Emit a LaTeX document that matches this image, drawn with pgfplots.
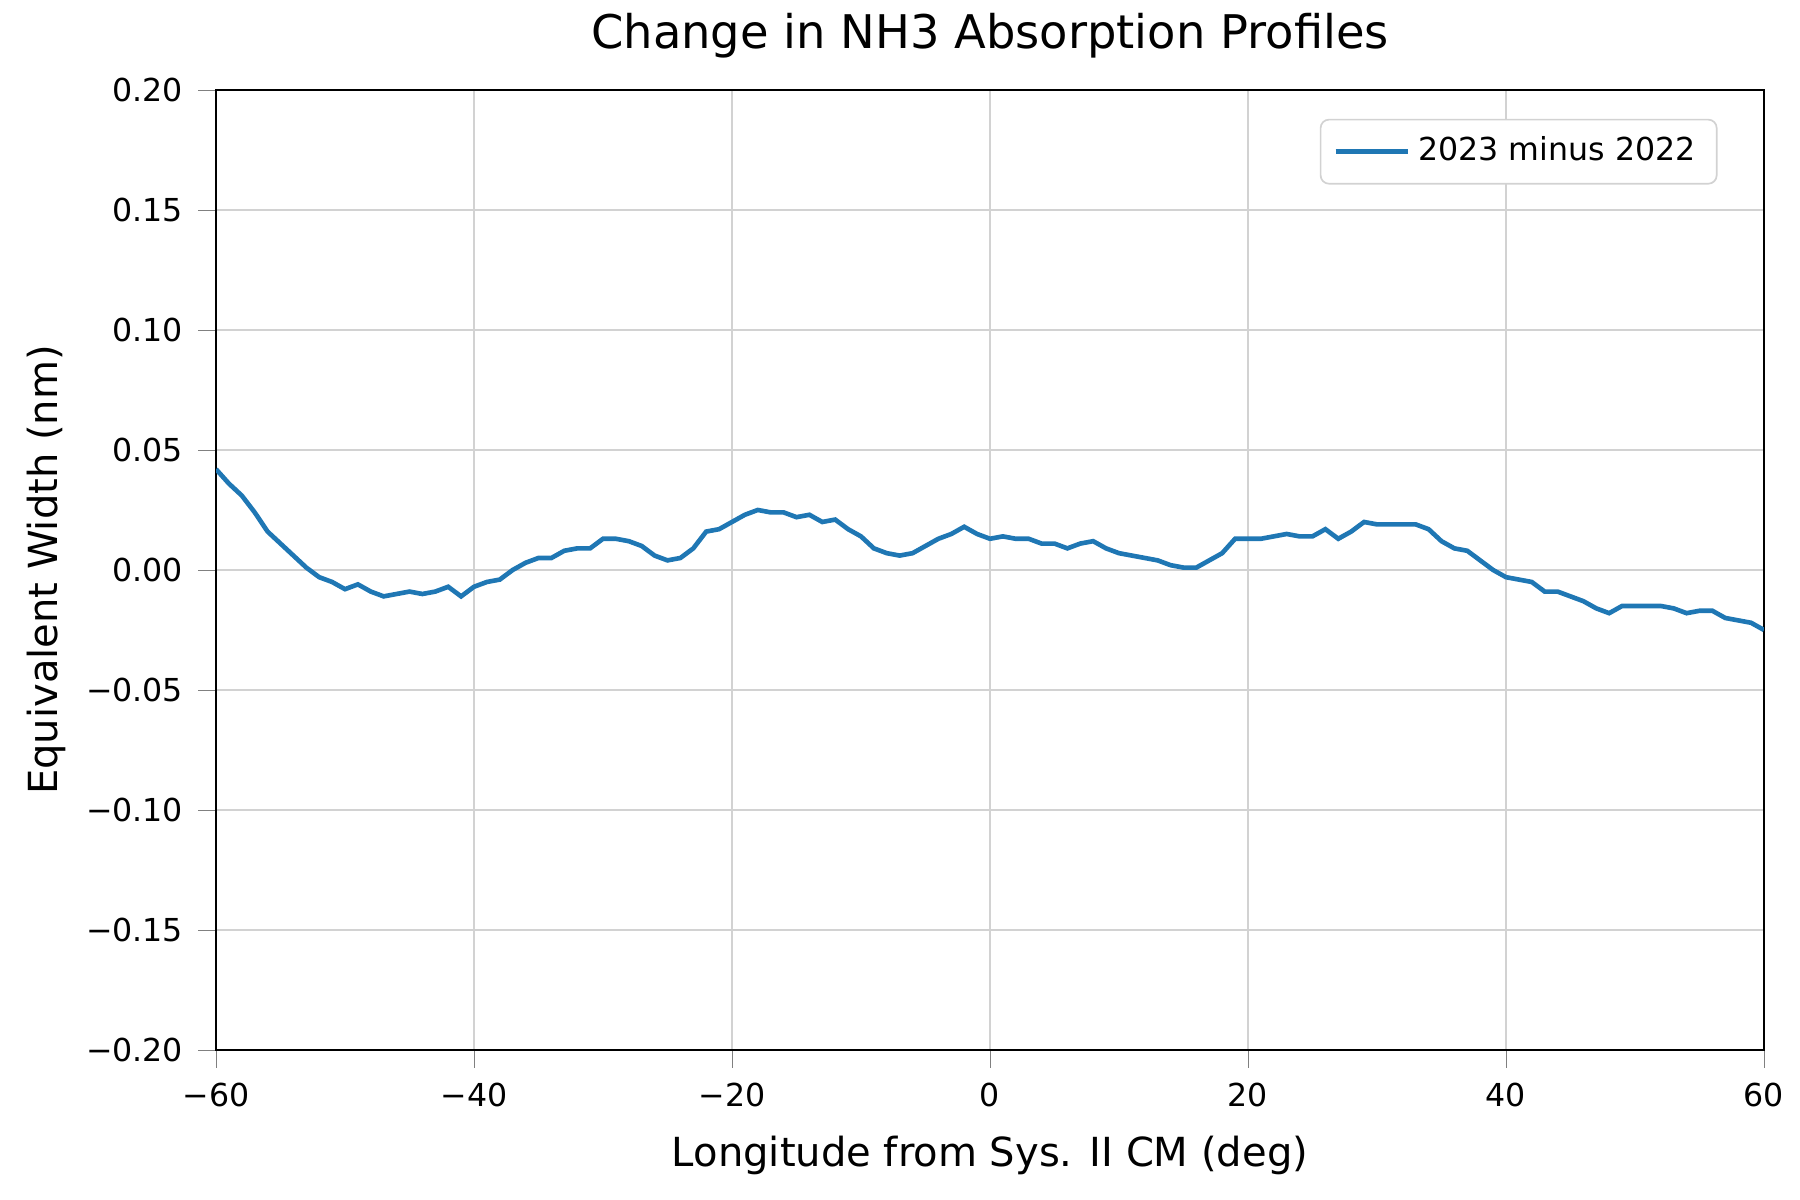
\documentclass[border=0pt]{standalone}
\usepackage{pgfplots}
\pgfplotsset{compat=1.18}
\usepackage{fontspec}
\setmainfont{DejaVu Sans}
\definecolor{mplblue}{HTML}{1F77B4}
\begin{document}
\begin{tikzpicture}
\path[use as bounding box] (-1.8cm,-1.25cm) rectangle (13.2cm,8.75cm);
\begin{axis}[
  at={(0,0)}, anchor=south west, scale only axis,
  width=12.9cm, height=8.0cm,
  xmin=-60, xmax=60, ymin=-0.2, ymax=0.2,
  xtick={-60,-40,...,60}, ytick={-0.2,-0.15,...,0.2},
  xticklabels={−60,−40,−20,0,20,40,60},
  yticklabels={−0.20,−0.15,−0.10,−0.05,0.00,0.05,0.10,0.15,0.20},
  tick label style={font=\fontsize{7.5}{9}\selectfont},
  grid=major, major grid style={gray!35, line width=0.25pt},
  tick align=outside, tick pos=left,
  title={Change in NH3 Absorption Profiles},
  title style={font=\fontsize{11}{13}\selectfont, yshift=-2pt},
  xlabel={Longitude from Sys. II CM (deg)},
  ylabel={Equivalent Width (nm)},
  label style={font=\fontsize{9.5}{11}\selectfont},
  ylabel style={yshift=-2pt},
  legend pos=north east,
  legend style={font=\fontsize{7.5}{9}\selectfont, draw=gray!35, rounded corners=2pt},
  legend cell align=left,
]
\addplot[mplblue, line width=1.1pt] table {
-60 0.042
-59 0.036
-58 0.031
-57 0.024
-56 0.016
-55 0.011
-54 0.006
-53 0.001
-52 -0.003
-51 -0.005
-50 -0.008
-49 -0.006
-48 -0.009
-47 -0.011
-46 -0.010
-45 -0.009
-44 -0.010
-43 -0.009
-42 -0.007
-41 -0.011
-40 -0.007
-39 -0.005
-38 -0.004
-37 0.000
-36 0.003
-35 0.005
-34 0.005
-33 0.008
-32 0.009
-31 0.009
-30 0.013
-29 0.013
-28 0.012
-27 0.010
-26 0.006
-25 0.004
-24 0.005
-23 0.009
-22 0.016
-21 0.017
-20 0.020
-19 0.023
-18 0.025
-17 0.024
-16 0.024
-15 0.022
-14 0.023
-13 0.020
-12 0.021
-11 0.017
-10 0.014
-9 0.009
-8 0.007
-7 0.006
-6 0.007
-5 0.010
-4 0.013
-3 0.015
-2 0.018
-1 0.015
0 0.013
1 0.014
2 0.013
3 0.013
4 0.011
5 0.011
6 0.009
7 0.011
8 0.012
9 0.009
10 0.007
11 0.006
12 0.005
13 0.004
14 0.002
15 0.001
16 0.001
17 0.004
18 0.007
19 0.013
20 0.013
21 0.013
22 0.014
23 0.015
24 0.014
25 0.014
26 0.017
27 0.013
28 0.016
29 0.020
30 0.019
31 0.019
32 0.019
33 0.019
34 0.017
35 0.012
36 0.009
37 0.008
38 0.004
39 0.000
40 -0.003
41 -0.004
42 -0.005
43 -0.009
44 -0.009
45 -0.011
46 -0.013
47 -0.016
48 -0.018
49 -0.015
50 -0.015
51 -0.015
52 -0.015
53 -0.016
54 -0.018
55 -0.017
56 -0.017
57 -0.020
58 -0.021
59 -0.022
60 -0.025
};
\addlegendentry{2023 minus 2022}
\end{axis}
\end{tikzpicture}
\end{document}
